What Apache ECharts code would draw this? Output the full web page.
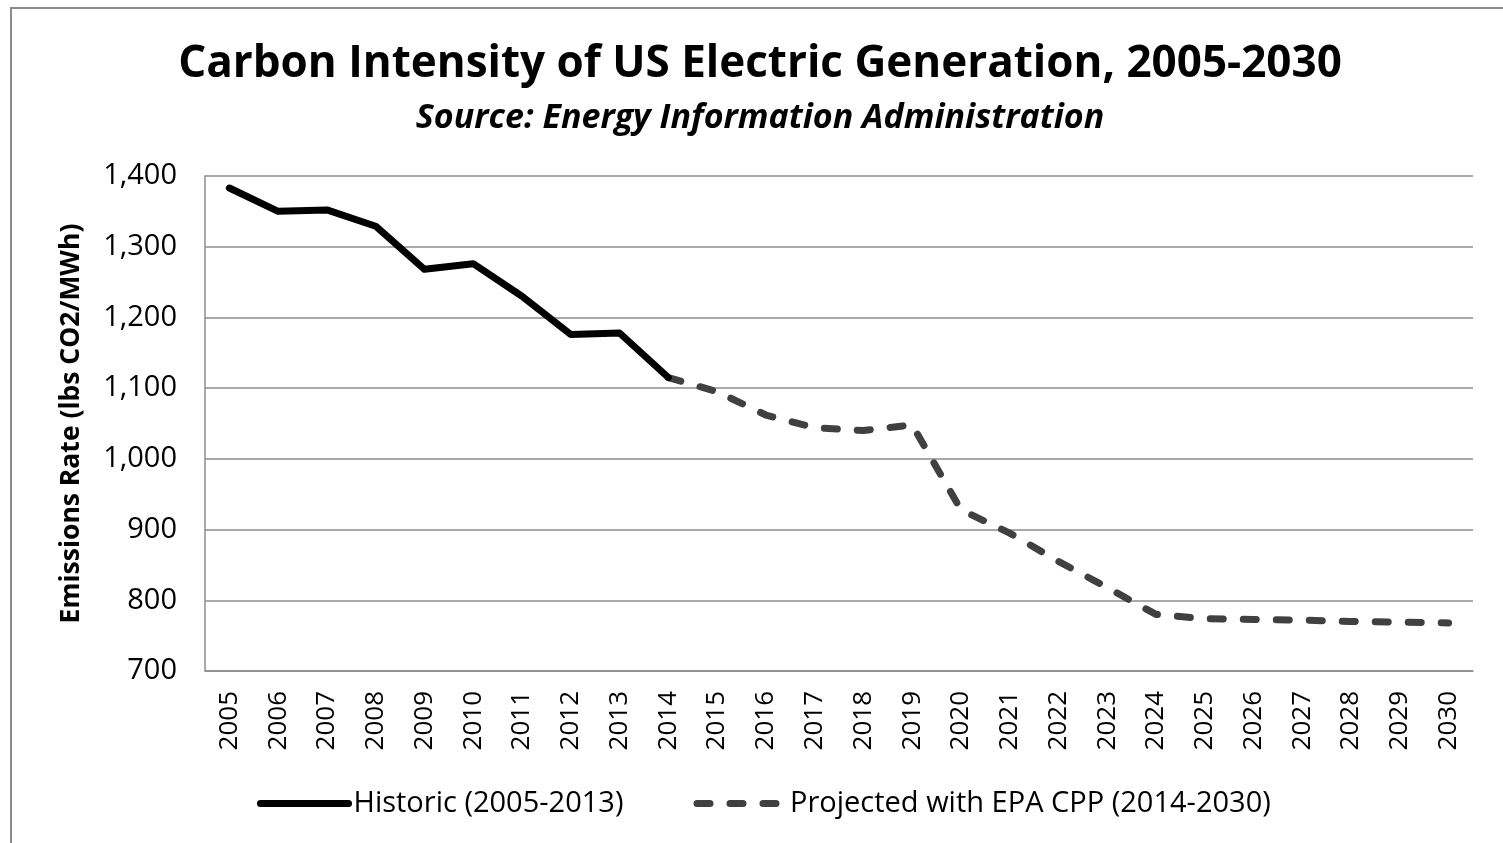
<!DOCTYPE html>
<html>
<head>
<meta charset="utf-8">
<title>Carbon Intensity of US Electric Generation</title>
<script src="https://cdn.jsdelivr.net/npm/echarts@6/dist/echarts.min.js"></script>
<style>
html, body { margin: 0; padding: 0; background: #fff; }
#chart { width: 1503px; height: 843px; }
</style>
</head>
<body>
<div id="chart"></div>
<script>
var years = ['2005', '2006', '2007', '2008', '2009', '2010', '2011', '2012', '2013',
	'2014', '2015', '2016', '2017', '2018', '2019', '2020', '2021', '2022', '2023',
	'2024', '2025', '2026', '2027', '2028', '2029', '2030'];

// lbs CO2 / MWh
var historic = [1383, 1350, 1352, 1329, 1268, 1276, 1230, 1176, 1178, 1115];
var projected = [1115, 1095, 1062, 1044, 1040, 1048, 928, 895, 855, 818,
	780, 774, 773, 772, 770, 769, 768];

var historicName = 'Historic (2005-2013)';
var projectedName = 'Projected with EPA CPP (2014-2030)';

// pad the series so they line up with the year axis
var historicData = historic.slice();
while (historicData.length < years.length) {
	historicData.push(null);
}
var projectedData = [];
for (var i = 0; i < years.length - projected.length; i++) {
	projectedData.push(null);
}
projectedData = projectedData.concat(projected);

var font = 'Open Sans';
var chart = echarts.init(document.getElementById('chart'));
chart.setOption({
	animation: false,
	backgroundColor: '#fff',
	graphic: [{
		type: 'rect',
		shape: { x: 11, y: 8, width: 1520, height: 860 },
		style: { fill: 'none', stroke: '#8c8c8c', lineWidth: 2 },
		silent: true
	}],
	title: [{
		text: 'Carbon Intensity of US Electric Generation, 2005-2030',
		left: 755,
		textAlign: 'center',
		top: 37,
		textStyle: { fontFamily: font, fontWeight: 'bold', fontSize: 44, color: '#000' }
	}, {
		text: 'Source: Energy Information Administration',
		left: 755,
		textAlign: 'center',
		top: 96,
		textStyle: { fontFamily: font, fontWeight: 'bold', fontStyle: 'italic', fontSize: 34, color: '#000' }
	}],
	legend: {
		bottom: 20,
		left: 252,
		itemWidth: 88,
		itemHeight: 14,
		itemGap: 70,
		itemStyle: { opacity: 0 },
		lineStyle: { width: 7, cap: 'round' },
		textStyle: { fontFamily: font, fontSize: 29, color: '#000' },
		data: [historicName, projectedName]
	},
	grid: {
		left: 205,
		right: 30,
		top: 176,
		bottom: 172
	},
	xAxis: {
		type: 'category',
		data: years,
		boundaryGap: true,
		axisLine: { lineStyle: { color: '#8c8c8c', width: 1.5 } },
		axisTick: { show: false },
		axisLabel: {
			rotate: 90,
			interval: 0,
			margin: 20,
			fontFamily: font,
			fontSize: 26,
			color: '#000'
		}
	},
	yAxis: {
		type: 'value',
		min: 700,
		max: 1400,
		interval: 100,
		name: 'Emissions Rate (lbs CO2/MWh)',
		nameLocation: 'middle',
		nameRotate: 90,
		nameGap: 120,
		nameTextStyle: { fontFamily: font, fontWeight: 'bold', fontSize: 26.5, color: '#000' },
		axisLine: { show: true, lineStyle: { color: '#8c8c8c', width: 1.5 } },
		axisTick: { show: false },
		splitLine: { lineStyle: { color: '#8c8c8c', width: 1.5 } },
		axisLabel: {
			margin: 28,
			fontFamily: font,
			fontSize: 29,
			color: '#000',
			formatter: function(v) {
				return v.toLocaleString('en-US');
			}
		}
	},
	series: [{
		name: historicName,
		type: 'line',
		data: historicData,
		symbol: 'none',
		color: '#000',
		lineStyle: { color: '#000', width: 7, cap: 'round', join: 'round' },
		z: 3
	}, {
		name: projectedName,
		type: 'line',
		data: projectedData,
		symbol: 'none',
		color: '#404040',
		lineStyle: { color: '#404040', width: 7, type: [13, 20], cap: 'round', join: 'round' },
		z: 2
	}]
});
</script>
</body>
</html>
